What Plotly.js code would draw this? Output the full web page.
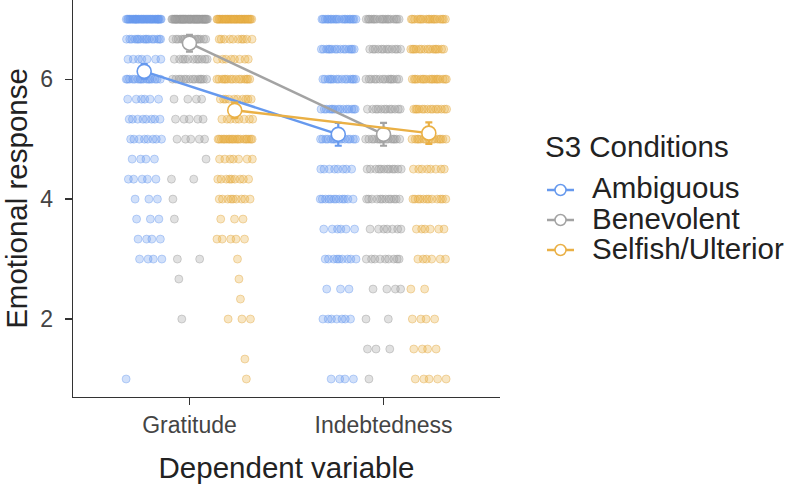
<!DOCTYPE html>
<html>
<head>
<meta charset="utf-8">
<script src="https://cdn.plot.ly/plotly-3.0.1.min.js"></script>
<style>
  html, body { margin: 0; padding: 0; background: #fff; }
  #chart { width: 787px; height: 486px; }
</style>
</head>
<body>
<div id="chart"></div>
<script>
// Dependent variables on the x axis
const dvs = ['Gratitude', 'Indebtedness'];

// Conditions (legend order)
const conditions = ['Ambiguous', 'Benevolent', 'Selfish/Ulterior'];
const legendTitle = 'S3 Conditions';

// Response levels for each scale
const gratLevels = [1, 1.333, 1.667, 2, 2.333, 2.667, 3, 3.333, 3.667, 4, 4.333, 4.667, 5, 5.333, 5.667, 6, 6.333, 6.667, 7];
const indLevels = [1, 1.5, 2, 2.5, 3, 3.5, 4, 4.5, 5, 5.5, 6, 6.5, 7];

// Number of participants at each gratitude level, per condition
const gratAmbiguous   = [1, 0, 0, 0, 0, 0, 4, 4, 3, 3, 5, 4, 8, 8, 6, 16, 7, 16, 36];
const gratBenevolent  = [0, 0, 0, 1, 0, 1, 2, 0, 1, 1, 2, 1, 5, 5, 4, 14, 11, 15, 50];
const gratSelfish     = [1, 1, 0, 3, 1, 1, 1, 5, 3, 9, 9, 7, 20, 8, 10, 15, 8, 10, 34];

// Number of participants at each indebtedness level, per condition
const indAmbiguous    = [4, 0, 7, 3, 9, 6, 12, 8, 15, 15, 15, 15, 20];
const indBenevolent   = [1, 3, 2, 4, 9, 7, 12, 12, 15, 12, 14, 12, 18];
const indSelfish      = [5, 4, 4, 2, 6, 6, 12, 8, 15, 14, 18, 15, 18];

// Condition means and error-bar half widths (Gratitude, Indebtedness)
const meanAmbiguous   = [6.13, 5.08];
const meanBenevolent  = [6.60, 5.08];
const meanSelfish     = [5.48, 5.10];
const errAmbiguous    = [0.12, 0.19];
const errBenevolent   = [0.14, 0.19];
const errSelfish      = [0.13, 0.18];

const colors = ['#6699EE', '#A3A3A3', '#EAB045'];
const fills = ['rgba(102,153,238,0.30)', 'rgba(163,163,163,0.32)', 'rgba(234,176,69,0.32)'];
const rims = ['rgba(102,153,238,0.40)', 'rgba(150,150,150,0.40)', 'rgba(225,165,60,0.40)'];

const counts = [
  [gratAmbiguous, indAmbiguous],
  [gratBenevolent, indBenevolent],
  [gratSelfish, indSelfish]
];
const means = [meanAmbiguous, meanBenevolent, meanSelfish];
const errs = [errAmbiguous, errBenevolent, errSelfish];
const levelSets = [gratLevels, indLevels];

const dodge = 0.2333;     // spacing between condition groups
const jitterHalf = 0.093; // horizontal spread of raw responses
const offsets = [-dodge, 0, dodge];

const traces = [];

// Raw responses, spread horizontally within each dodged group
conditions.forEach((cond, ci) => {
  const xs = [], ys = [];
  dvs.forEach((dv, di) => {
    const levels = levelSets[di];
    const cnt = counts[ci][di];
    levels.forEach((lv, li) => {
      const n = cnt[li];
      const seed = ((li * 7 + ci * 3 + di * 5) * 0.137) % 1;
      for (let k = 0; k < n; k++) {
        const u = (seed + k * 0.6180339887) % 1;
        xs.push(di + 1 + offsets[ci] + (u - 0.5) * 2 * jitterHalf);
        ys.push(lv);
      }
    });
  });
  traces.push({
    type: 'scatter', mode: 'markers', x: xs, y: ys,
    showlegend: false, hoverinfo: 'skip',
    marker: { size: 8, color: fills[ci], line: { color: rims[ci], width: 1 } }
  });
});

// Condition means with error bars, joined across dependent variables
conditions.forEach((cond, ci) => {
  traces.push({
    type: 'scatter', mode: 'lines+markers', name: cond, showlegend: false,
    x: dvs.map((d, di) => di + 1 + offsets[ci]),
    y: means[ci],
    line: { color: colors[ci], width: 2.5 },
    marker: { size: 14, color: '#ffffff', line: { color: colors[ci], width: 1.6 } },
    error_y: { type: 'data', array: errs[ci], visible: true, color: colors[ci], thickness: 2.2, width: 3.5 }
  });
});

// Plot area geometry (pixels) used to place the legend in paper units
const W = 787, H = 486;
const M = { l: 73, r: 287, t: 0, b: 89 };
const pw = W - M.l - M.r, ph = H - M.t - M.b;
const px = v => (v - M.l) / pw;
const py = v => (H - M.b - v) / ph;

// Legend: title, then one key (line + open circle) per condition
const annotations = [{
  xref: 'paper', yref: 'paper', x: px(543), y: py(146), xanchor: 'left', yanchor: 'middle',
  text: legendTitle, showarrow: false, font: { size: 29.5, color: '#222222' }
}];
const shapes = [];
const keyY = [190, 220, 250];
conditions.forEach((cond, ci) => {
  const yy = py(keyY[ci]);
  shapes.push({
    type: 'line', xref: 'paper', yref: 'paper', layer: 'above',
    x0: px(547), x1: px(574), y0: yy, y1: yy,
    line: { color: colors[ci], width: 2.5 }
  });
  shapes.push({
    type: 'circle', xref: 'paper', yref: 'paper', layer: 'above',
    xsizemode: 'pixel', ysizemode: 'pixel', xanchor: px(560.5), yanchor: yy,
    x0: -5.5, x1: 5.5, y0: -5.5, y1: 5.5,
    fillcolor: '#ffffff', line: { color: colors[ci], width: 1.5 }
  });
  annotations.push({
    xref: 'paper', yref: 'paper', x: px(590), y: yy + 2 / ph, xanchor: 'left', yanchor: 'middle',
    text: cond, showarrow: false, font: { size: 29.5, color: '#222222' }
  });
});

const layout = {
  width: W, height: H,
  margin: M,
  paper_bgcolor: '#ffffff', plot_bgcolor: '#ffffff',
  font: { family: 'Liberation Sans, Arial, sans-serif', color: '#333333' },
  xaxis: {
    range: [0.4, 2.6], tickvals: [1, 2], ticktext: dvs,
    showgrid: false, zeroline: false, showline: true, linecolor: '#333333', linewidth: 1.3,
    ticks: 'outside', ticklen: 7, tickwidth: 1.3, tickcolor: '#333333',
    tickfont: { size: 23, color: '#444444' },
    title: { text: 'Dependent variable', font: { size: 29.5, color: '#222222' }, standoff: 20 }
  },
  yaxis: {
    range: [0.7, 7.32], tickvals: [2, 4, 6],
    showgrid: false, zeroline: false, showline: true, linecolor: '#333333', linewidth: 1.3,
    ticks: 'outside', ticklen: 7, tickwidth: 1.3, tickcolor: '#333333',
    ticklabelstandoff: 7,
    tickfont: { size: 23, color: '#444444' },
    title: { text: 'Emotional response', font: { size: 29.5, color: '#222222' }, standoff: 16 }
  },
  showlegend: false,
  annotations: annotations,
  shapes: shapes
};

Plotly.newPlot('chart', traces, layout, { displayModeBar: false, staticPlot: true });
</script>
</body>
</html>
